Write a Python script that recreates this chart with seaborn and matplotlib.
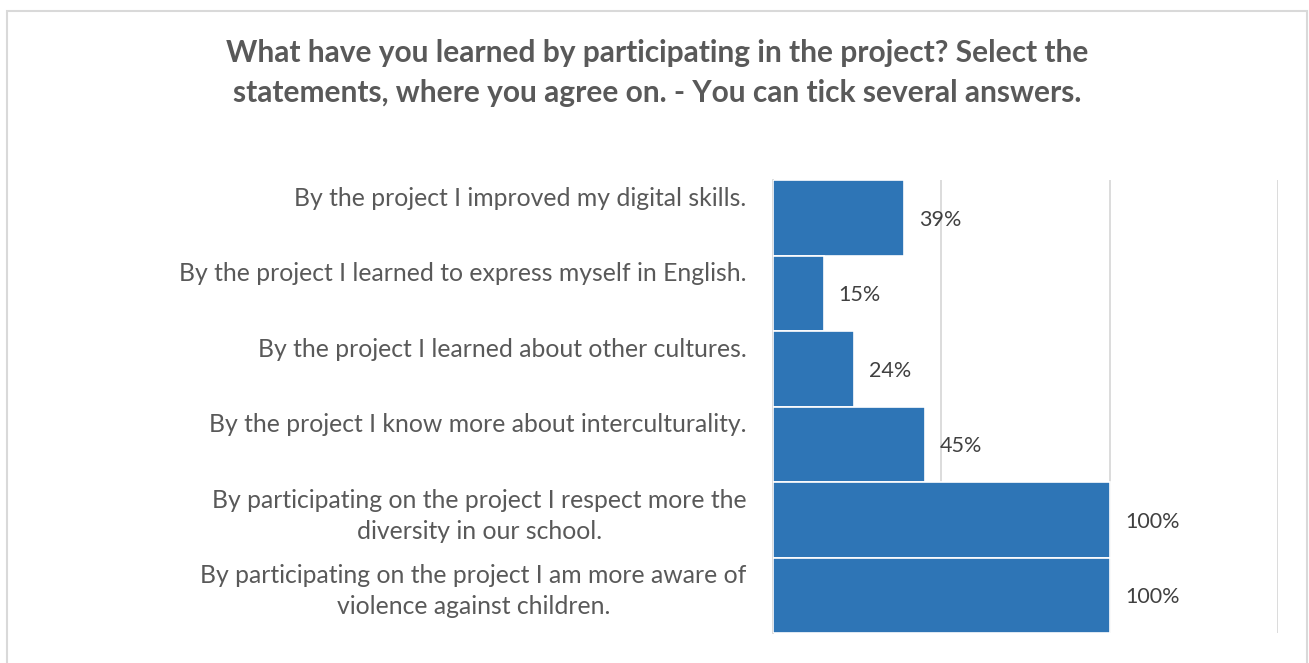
import matplotlib
matplotlib.use("Agg")
import matplotlib.pyplot as plt
import matplotlib.transforms as mtransforms
import seaborn as sns
import pandas as pd
from matplotlib.patches import Rectangle

statements = [
    "By the project I improved my digital skills.",
    "By the project I learned to express myself in English.",
    "By the project I learned about other cultures.",
    "By the project I know more about interculturality.",
    "By participating on the project I respect more the\ndiversity in our school.",
    "By participating on the project I am more aware of\nviolence against children.",
]
shares = [0.39, 0.15, 0.24, 0.45, 1.00, 1.00]
value_labels = ["39%", "15%", "24%", "45%", "100%", "100%"]
grid_ticks = [0, 0.5, 1.0, 1.5]

title = ("What have you learned by participating in the project? Select the\n"
         "statements, where you agree on. - You can tick several answers.")

sns.set_theme(style="white")
plt.rcParams["font.family"] = ["Lato", "DejaVu Sans"]

df = pd.DataFrame({"statement": statements, "share": shares})

fig = plt.figure(figsize=(13.09, 6.63), dpi=100)
ax = fig.add_axes([773 / 1309, 1 - 633 / 663, (1278 - 773) / 1309, (633 - 180) / 663])

sns.barplot(data=df, x="share", y="statement", orient="h", color="#2e75b6",
            saturation=1, width=1.0, edgecolor="white", linewidth=1.2, ax=ax, zorder=3)

ax.set_xlim(0, 1.5)
ax.set_xticks(grid_ticks)
ax.set_xticklabels([])
ax.tick_params(axis="x", length=0)
ax.tick_params(axis="y", length=0, pad=19)
ax.grid(axis="x", color="#d9d9d9", linewidth=1.3, zorder=0)
ax.grid(axis="y", visible=False)
for side in ["top", "right", "bottom"]:
    ax.spines[side].set_visible(False)
ax.spines["left"].set_color("#d9d9d9")
ax.spines["left"].set_linewidth(1.3)
ax.set_xlabel("")
ax.set_ylabel("")

# category labels hang from a point a little above each bar's middle
lift = mtransforms.ScaledTranslation(0, 0.31, fig.dpi_scale_trans)
for lbl in ax.get_yticklabels():
    lbl.set_fontsize(17.8)
    lbl.set_color("#595959")
    lbl.set_multialignment("center")
    lbl.set_linespacing(1.42)
    lbl.set_verticalalignment("top")
    lbl.set_transform(lbl.get_transform() + lift)

for i, (v, t) in enumerate(zip(shares, value_labels)):
    ax.annotate(t, xy=(v, i), xytext=(11, -1.5), textcoords="offset points",
                va="center", ha="left", fontsize=15.5, color="#404040", zorder=4)

fig.text(657 / 1309, 1 - 73 / 663, title, ha="center", va="center",
         fontsize=21.5, fontweight="bold", color="#595959", linespacing=1.52)

fig.patches.append(Rectangle((7 / 1309, -0.05), 1300 / 1309, 1.05 - 11 / 663,
                             transform=fig.transFigure, fill=False,
                             edgecolor="#d9d9d9", linewidth=1.5))

fig.savefig("out.png", dpi=100, facecolor="white")
